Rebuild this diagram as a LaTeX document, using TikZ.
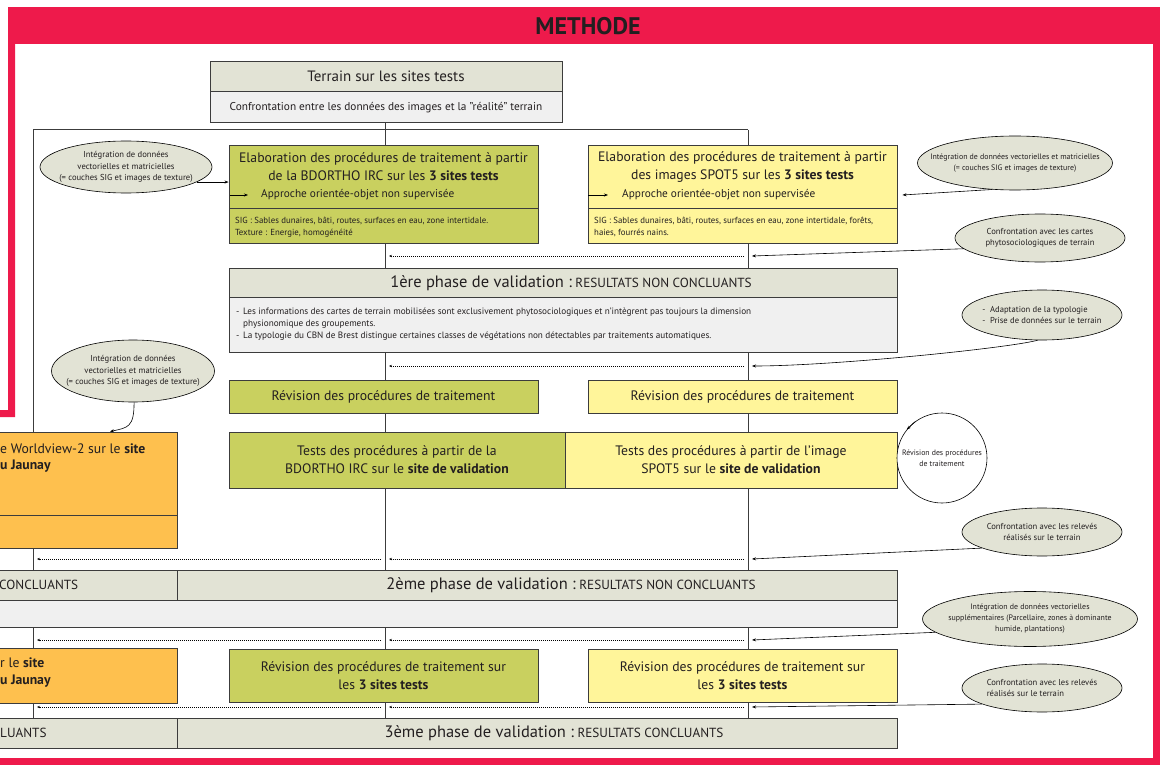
\documentclass[tikz,border=0pt]{standalone}
\usepackage{fontspec}
\setmainfont{PT Sans}
\usetikzlibrary{arrows.meta,shapes.geometric,backgrounds}

\definecolor{rouge}{HTML}{EE1A4B}
\definecolor{vert}{HTML}{C9D05F}
\definecolor{jaune}{HTML}{FFF59A}
\definecolor{orangewv}{HTML}{FEC04E}
\definecolor{kaki}{HTML}{E2E3D5}
\definecolor{grisclair}{HTML}{F0F0F0}
\definecolor{trait}{HTML}{3C3C3C}
\definecolor{encre}{HTML}{231F20}

\newcommand{\fterrain}{\fontsize{15}{18}\selectfont}
\newcommand{\fgrand}{\fontsize{13.7}{18}\selectfont}
\newcommand{\fmoyen}{\fontsize{11.3}{13}\selectfont}
\newcommand{\fpetit}{\fontsize{8.8}{12}\selectfont}
\newcommand{\fliste}{\fontsize{9.2}{12}\selectfont}
\newcommand{\fmini}{\fontsize{8.6}{11.5}\selectfont}
\newcommand{\fminib}{\fontsize{7.9}{11}\selectfont}
\newcommand{\fcercle}{\fontsize{7.8}{10.5}\selectfont}
\newcommand{\fphase}{\fontsize{16.5}{18}\selectfont}
\newcommand{\fresultat}{\fontsize{13.2}{15}\selectfont}

\tikzset{
  cadre/.style={draw=trait, line width=0.9pt, inner sep=0pt, text=encre},
  bulle/.style={ellipse, draw=black, line width=0.6pt, fill=kaki, inner sep=0pt},
  texte/.style={inner sep=0pt, text=encre, align=center},
  liaison/.style={draw=trait, line width=1pt},
  retour/.style={dash pattern=on 1pt off 1pt, line width=0.7pt, -{Stealth[length=3pt,width=2.4pt]}},
  fleche/.style={line width=0.6pt, -{Stealth[length=4pt,width=3pt]}},
}

\begin{document}
\begin{tikzpicture}[x=1pt, y=-1pt]
  \useasboundingbox (0,0) rectangle (1160,765);

  % cadre rouge
  \fill[rouge] (8,7) rectangle (1160,44);
  \fill[rouge] (8,44) -- (15,44) -- (15,417) -- (0,417) -- (0,410) -- (8,410) -- cycle;
  \fill[rouge] (1153,44) rectangle (1160,765);
  \fill[rouge] (0,758) rectangle (1160,765);
  \node[texte, font=\fontsize{24}{28}\selectfont\bfseries] (methode) at (588,26) {METHODE};

  \coordinate (vl) at (33,130);
  \coordinate (vc) at (385,130);
  \coordinate (vr) at (748,130);
  \coordinate (r1) at (0,256);
  \coordinate (r2) at (0,366);
  \coordinate (r3) at (0,559);
  \coordinate (r4) at (0,640);
  \coordinate (r5) at (0,707);

  % terrain
  \node[cadre, fill=kaki, minimum width=352pt, minimum height=30pt, font=\fterrain] (terrain) at (386,76) {Terrain sur les sites tests};
  \node[cadre, fill=grisclair, minimum width=352pt, minimum height=31pt, font=\fmoyen, anchor=north] (terrainb) at (terrain.south) {Confrontation entre les donn\'ees des images et la "r\'ealit\'e" terrain};

  % elaboration
  \node[cadre, fill=vert, minimum width=309pt, minimum height=63pt] (bdh) at (383.5,176.5) {};
  \node[cadre, fill=vert, minimum width=309pt, minimum height=35pt, anchor=north] (bdb) at (bdh.south) {};
  \node[texte, font=\fgrand] (bdt) at (383.5,167) {Elaboration des proc\'edures de traitement \`a partir\\de la BDORTHO IRC sur les \textbf{3 sites tests}};
  \node[texte, font=\fmoyen, anchor=west] (bda) at (261,195) {Approche orient\'ee-objet non supervis\'ee};
  \draw[fleche] ([xshift=-31pt]bda.west) -- ([xshift=-13pt]bda.west);
  \node[texte, font=\fpetit, anchor=west, align=left] (bdl) at (235,227) {SIG : Sables dunaires, b\^ati, routes, surfaces en eau, zone intertidale.\\Texture : Energie, homog\'en\'eit\'e};

  \node[cadre, fill=jaune, minimum width=309pt, minimum height=63pt] (sph) at (742.5,176.5) {};
  \node[cadre, fill=jaune, minimum width=309pt, minimum height=35pt, anchor=north] (spb) at (sph.south) {};
  \node[texte, font=\fgrand] (spt) at (742.5,167) {Elaboration des proc\'edures de traitement \`a partir\\des images SPOT5 sur les \textbf{3 sites tests}};
  \node[texte, font=\fmoyen, anchor=west] (spa) at (622,195) {Approche orient\'ee-objet non supervis\'ee};
  \draw[fleche] ([xshift=-34pt]spa.west) -- ([xshift=-14pt]spa.west);
  \node[texte, font=\fpetit, anchor=west, align=left] (spl) at (594,227) {SIG : Sables dunaires, b\^ati, routes, surfaces en eau, zone intertidale, for\^ets,\\haies, fourr\'es nains.};

  % 1ere phase
  \node[cadre, fill=kaki, minimum width=668pt, minimum height=29pt] (p1h) at (563,282.5) {};
  \node[cadre, fill=grisclair, minimum width=668pt, minimum height=55pt, anchor=north] (p1b) at (p1h.south) {};
  \node[texte] (p1t) at (571,283) {{\fphase 1\`ere phase de validation :} {\fresultat RESULTATS NON CONCLUANTS}};
  \node[texte, font=\fliste, anchor=west, align=left] (p1l) at (236,324) {\makebox[7pt][l]{-}Les informations des cartes de terrain mobilis\'ees sont exclusivement phytosociologiques et n'int\`egrent pas toujours la dimension\\\hspace*{7pt}physionomique des groupements.\\\makebox[7pt][l]{-}La typologie du CBN de Brest distingue certaines classes de v\'eg\'etations non d\'etectables par traitements automatiques.};

  % revision
  \node[cadre, fill=vert, minimum width=309pt, minimum height=33pt, font=\fgrand] (rev1) at (383.5,396.5) {R\'evision des proc\'edures de traitement};
  \node[cadre, fill=jaune, minimum width=309pt, minimum height=33pt, font=\fgrand] (rev2) at (742.5,396.5) {R\'evision des proc\'edures de traitement};

  % tests
  \node[cadre, fill=vert, minimum width=336pt, minimum height=56pt, font=\fgrand, align=center] (test1) at (397,460) {Tests des proc\'edures \`a partir de la\\BDORTHO IRC sur le \textbf{site de validation}};
  \node[cadre, fill=jaune, minimum width=332pt, minimum height=56pt, font=\fgrand, align=center] (test2) at (731,460) {Tests des proc\'edures \`a partir de l'image\\SPOT5 sur le \textbf{site de validation}};
  \node[circle, draw=black, line width=0.6pt, fill=white, minimum size=90pt, inner sep=0pt] (cercle) at (942,458) {};
  \node[texte, font=\fcercle] (cerclet) at (cercle) {R\'evision des proc\'edures\\de traitement};
  \draw[fleche] (cercle.126) -- (cercle.141);

  % worldview
  \node[cadre, fill=orangewv, minimum width=182pt, minimum height=83pt] (wvh) at (86,473.5) {};
  \node[cadre, fill=orangewv, minimum width=182pt, minimum height=33pt, anchor=north] (wvb) at (wvh.south) {};
  \node[texte, font=\fgrand, anchor=west] (wvt1) at (0,449) {e Worldview-2 sur le \textbf{site}};
  \node[texte, font=\fgrand, anchor=west] (wvt2) at (0,466) {\textbf{u Jaunay}};

  % 2eme phase
  \node[cadre, fill=kaki, minimum width=182pt, minimum height=30pt] (p2a) at (86,585) {};
  \node[texte, font=\fresultat, anchor=west] (p2at) at (-1,585) {CONCLUANTS};
  \node[cadre, fill=kaki, minimum width=720pt, minimum height=30pt] (p2h) at (537,585) {};
  \node[texte] (p2t) at (571,585) {{\fphase 2\`eme phase de validation :} {\fresultat RESULTATS NON CONCLUANTS}};
  \node[cadre, fill=grisclair, minimum width=902pt, minimum height=27pt] (p2b) at (446,613.5) {};

  % revision sur les 3 sites
  \node[cadre, fill=orangewv, minimum width=182pt, minimum height=55pt] (wv2) at (86,675.5) {};
  \node[texte, font=\fgrand, anchor=west] (wv2t1) at (0,663) {r le \textbf{site}};
  \node[texte, font=\fgrand, anchor=west] (wv2t2) at (0,681) {\textbf{u Jaunay}};
  \node[cadre, fill=vert, minimum width=309pt, minimum height=53pt, font=\fgrand, align=center] (rs1) at (383.5,675.5) {R\'evision des proc\'edures de traitement sur\\les \textbf{3 sites tests}};
  \node[cadre, fill=jaune, minimum width=309pt, minimum height=53pt, font=\fgrand, align=center] (rs2) at (742.5,675.5) {R\'evision des proc\'edures de traitement sur\\les \textbf{3 sites tests}};

  % 3eme phase
  \node[cadre, fill=kaki, minimum width=182pt, minimum height=30pt] (p3a) at (86,733) {};
  \node[texte, font=\fresultat, anchor=west] (p3at) at (0,733) {LUANTS};
  \node[cadre, fill=kaki, minimum width=720pt, minimum height=30pt] (p3h) at (537,733) {};
  \node[texte] (p3t) at (554,733) {{\fphase 3\`eme phase de validation :} {\fresultat RESULTATS CONCLUANTS}};

  % bulles
  \node[bulle, minimum width=172pt, minimum height=52pt] (e1) at (126,167) {};
  \node[texte, font=\fmini] (e1t) at (e1) {Int\'egration de donn\'ees\\vectorielles et matricielles\\(= couches SIG et images de texture)};
  \node[bulle, minimum width=195pt, minimum height=54pt] (e2) at (1015,163) {};
  \node[texte, font=\fminib] (e2t) at (e2) {Int\'egration de donn\'ees vectorielles et matricielles\\(= couches SIG et images de texture)};
  \node[bulle, minimum width=170pt, minimum height=48pt] (e3) at (1040,238) {};
  \node[texte, font=\fmini] (e3t) at (e3) {Confrontation avec les cartes\\phytosociologiques de terrain};
  \node[bulle, minimum width=160pt, minimum height=50pt] (e4) at (1042,315) {};
  \node[texte, font=\fmini, align=left] (e4t) at (e4) {-\ \ Adaptation de la typologie\\-\ \ Prise de donn\'ees sur le terrain};
  \node[bulle, minimum width=163pt, minimum height=62pt] (e5) at (133,371) {};
  \node[texte, font=\fmini] (e5t) at (e5) {Int\'egration de donn\'ees\\vectorielles et matricielles\\(= couches SIG et images de texture)};
  \node[bulle, minimum width=160pt, minimum height=48pt] (e6) at (1042,532) {};
  \node[texte, font=\fmini] (e6t) at (e6) {Confrontation avec les relev\'es\\r\'ealis\'es sur le terrain};
  \node[bulle, minimum width=215pt, minimum height=55pt] (e7) at (1030,619) {};
  \node[texte, font=\fminib] (e7t) at (e7) {Int\'egration de donn\'ees vectorielles\\suppl\'ementaires (Parcellaire, zones \`a dominante\\humide, plantations)};
  \node[bulle, minimum width=160pt, minimum height=48pt] (e8) at (1042,688) {};
  \node[texte, font=\fmini, align=left] (e8t) at (e8) {Confrontation avec les relev\'es\\r\'ealis\'es sur le terrain};

  % liens des bulles
  \draw[fleche] (e1.-12) -- (bdh.west |- e1.-12);
  \draw[fleche] (e2.-131) -- ([xshift=5pt]sph.east |- spa.center);
  \draw[fleche] (e3.-172) -- ([xshift=4pt]vr |- r1);
  \draw[fleche] (e4.-100) .. controls +(-30,8) and +(80,0) .. ([xshift=4pt]vr |- r2);
  \draw[fleche] (e5.-88) .. controls +(0,25) and +(18,-4) .. ([xshift=24pt]wvh.north);
  \draw[fleche] (e6.-165) -- ([xshift=4pt]vr |- r3);
  \draw[fleche] (e7.-172) -- ([xshift=4pt]vr |- r4);
  \draw[fleche] (e8.-165) -- ([xshift=4pt]vr |- r5);

  % retours
  \draw[retour] ([xshift=-4pt]vr |- r1) -- ([xshift=4pt]vc |- r1);
  \draw[retour] ([xshift=-4pt]vr |- r2) -- ([xshift=4pt]vc |- r2);
  \draw[retour] ([xshift=-4pt]vr |- r3) -- ([xshift=4pt]vc |- r3);
  \draw[retour] ([xshift=-4pt]vc |- r3) -- ([xshift=4pt]vl |- r3);
  \draw[retour] ([xshift=-4pt]vr |- r4) -- ([xshift=4pt]vc |- r4);
  \draw[retour] ([xshift=-4pt]vc |- r4) -- ([xshift=4pt]vl |- r4);
  \draw[retour] ([xshift=-4pt]vr |- r5) -- ([xshift=4pt]vc |- r5);
  \draw[retour] ([xshift=-4pt]vc |- r5) -- ([xshift=4pt]vl |- r5);

  \begin{pgfonlayer}{background}
    \draw[liaison] (terrainb.south -| vc) -- (vc);
    \draw[liaison] (vl) -- (vr);
    \draw[liaison] (vl) -- (vl |- p3h.north);
    \draw[liaison] (vc) -- (vc |- p3h.north);
    \draw[liaison] (vr) -- (vr |- p3h.north);
  \end{pgfonlayer}
\end{tikzpicture}
\end{document}
